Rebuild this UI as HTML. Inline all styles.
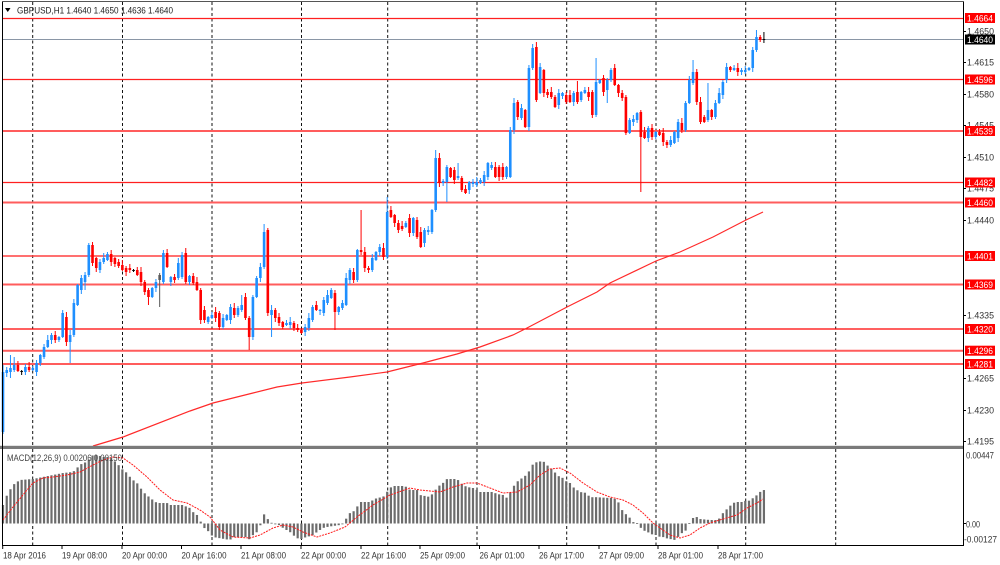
<!DOCTYPE html>
<html>
<head>
<meta charset="utf-8">
<style>
  html,body{margin:0;padding:0;background:#fff;}
  svg{display:block;}
  text{font-family:"Liberation Sans",sans-serif;}
</style>
</head>
<body>
<svg id="chart" width="1000" height="565" viewBox="0 0 1000 565" xmlns="http://www.w3.org/2000/svg">
  <rect x="0" y="0" width="1000" height="565" fill="#ffffff"/>
  <!-- vertical dashed grid -->
  <g stroke="#111" stroke-width="1" stroke-dasharray="3,2.5">
    <line x1="32.7" y1="2" x2="32.7" y2="446"/><line x1="32.7" y1="449" x2="32.7" y2="545"/>
    <line x1="122.5" y1="2" x2="122.5" y2="446"/><line x1="122.5" y1="449" x2="122.5" y2="545"/>
    <line x1="212" y1="2" x2="212" y2="446"/><line x1="212" y1="449" x2="212" y2="545"/>
    <line x1="301.5" y1="2" x2="301.5" y2="446"/><line x1="301.5" y1="449" x2="301.5" y2="545"/>
    <line x1="387.7" y1="2" x2="387.7" y2="446"/><line x1="387.7" y1="449" x2="387.7" y2="545"/>
    <line x1="477" y1="2" x2="477" y2="446"/><line x1="477" y1="449" x2="477" y2="545"/>
    <line x1="566.7" y1="2" x2="566.7" y2="446"/><line x1="566.7" y1="449" x2="566.7" y2="545"/>
    <line x1="656" y1="2" x2="656" y2="446"/><line x1="656" y1="449" x2="656" y2="545"/>
    <line x1="745.7" y1="2" x2="745.7" y2="446"/><line x1="745.7" y1="449" x2="745.7" y2="545"/>
    <line x1="835.7" y1="2" x2="835.7" y2="446"/><line x1="835.7" y1="449" x2="835.7" y2="545"/>
  </g>

  <!-- horizontal level lines -->
  <g>
    <line x1="3" y1="18.5" x2="963" y2="18.5" stroke="#ff2020" stroke-width="1.3"/>
    <line x1="3" y1="79.5" x2="963" y2="79.5" stroke="#ff2020" stroke-width="1.3"/>
    <line x1="3" y1="131" x2="963" y2="131" stroke="#ff5c5c" stroke-width="2"/>
    <line x1="3" y1="182.5" x2="963" y2="182.5" stroke="#ff2020" stroke-width="1.3"/>
    <line x1="3" y1="202.5" x2="963" y2="202.5" stroke="#ff5c5c" stroke-width="2"/>
    <line x1="3" y1="256" x2="963" y2="256" stroke="#ff4040" stroke-width="1.6"/>
    <line x1="3" y1="284.5" x2="963" y2="284.5" stroke="#ff5c5c" stroke-width="2"/>
    <line x1="3" y1="329" x2="963" y2="329" stroke="#ff0000" stroke-width="1.2"/>
    <line x1="3" y1="350.7" x2="963" y2="350.7" stroke="#ff5c5c" stroke-width="2"/>
    <line x1="3" y1="364" x2="963" y2="364" stroke="#ff5c5c" stroke-width="2"/>
    <!-- current price line -->
    <line x1="3" y1="39.5" x2="963" y2="39.5" stroke="#8a96a6" stroke-width="1"/>
  </g>

  <!-- moving average -->
  <polyline id="ma" fill="none" stroke="#ff2a2a" stroke-width="1.2" points=""/>
  <!-- candles -->
  <g id="candles"></g>
  <!-- macd histogram -->
  <g id="hist"></g>
  <polyline id="sig" fill="none" stroke="#ff1a1a" stroke-width="1" stroke-dasharray="2,1" points=""/>

  <!-- separator bar -->
  <rect x="0" y="445.8" width="963.5" height="3.2" fill="#7a7a7a"/>

  <!-- frame -->
  <line x1="2.5" y1="1" x2="2.5" y2="545.5" stroke="#000" stroke-width="1"/>
  <line x1="963.5" y1="1" x2="963.5" y2="545.5" stroke="#000" stroke-width="1"/>
  <line x1="2" y1="1.5" x2="964" y2="1.5" stroke="#555" stroke-width="1"/>
  <line x1="2" y1="545.5" x2="964" y2="545.5" stroke="#000" stroke-width="1"/>

  <!-- header -->
  <polygon points="5,8 10.5,8 7.75,12" fill="#000"/>
  <text x="17" y="13.5" font-size="9" fill="#222" textLength="156" lengthAdjust="spacingAndGlyphs">GBPUSD,H1  1.4640 1.4650 1.4636 1.4640</text>
  <text x="7" y="461" font-size="9" fill="#444" textLength="115" lengthAdjust="spacingAndGlyphs">MACD(12,26,9) 0.00206 0.00150</text>

  <!-- right axis ticks -->
  <g stroke="#000" stroke-width="1">
    <line x1="963" y1="31.5" x2="966" y2="31.5"/>
    <line x1="963" y1="62.5" x2="966" y2="62.5"/>
    <line x1="963" y1="94.5" x2="966" y2="94.5"/>
    <line x1="963" y1="125.5" x2="966" y2="125.5"/>
    <line x1="963" y1="157.5" x2="966" y2="157.5"/>
    <line x1="963" y1="188.5" x2="966" y2="188.5"/>
    <line x1="963" y1="220.5" x2="966" y2="220.5"/>
    <line x1="963" y1="315.5" x2="966" y2="315.5"/>
    <line x1="963" y1="378.5" x2="966" y2="378.5"/>
    <line x1="963" y1="410.5" x2="966" y2="410.5"/>
    <line x1="963" y1="441.5" x2="966" y2="441.5"/>
    <line x1="963" y1="523.5" x2="966" y2="523.5"/>
  </g>
  <g font-size="9" fill="#333">
    <text x="967" y="34.5" textLength="27" lengthAdjust="spacingAndGlyphs">1.4650</text>
    <text x="967" y="65.5" textLength="27" lengthAdjust="spacingAndGlyphs">1.4615</text>
    <text x="967" y="97.5" textLength="27" lengthAdjust="spacingAndGlyphs">1.4580</text>
    <text x="967" y="128.5" textLength="27" lengthAdjust="spacingAndGlyphs">1.4545</text>
    <text x="967" y="160.5" textLength="27" lengthAdjust="spacingAndGlyphs">1.4510</text>
    <text x="967" y="191.5" textLength="27" lengthAdjust="spacingAndGlyphs">1.4475</text>
    <text x="967" y="223.5" textLength="27" lengthAdjust="spacingAndGlyphs">1.4440</text>
    <text x="967" y="318.5" textLength="27" lengthAdjust="spacingAndGlyphs">1.4335</text>
    <text x="967" y="381.5" textLength="27" lengthAdjust="spacingAndGlyphs">1.4265</text>
    <text x="967" y="413.5" textLength="27" lengthAdjust="spacingAndGlyphs">1.4230</text>
    <text x="967" y="444.5" textLength="27" lengthAdjust="spacingAndGlyphs">1.4195</text>
    <text x="966" y="458.5" textLength="28" lengthAdjust="spacingAndGlyphs">0.00447</text>
    <text x="966" y="527.5" textLength="14" lengthAdjust="spacingAndGlyphs">0.00</text>
    <text x="964" y="542.5" textLength="33" lengthAdjust="spacingAndGlyphs">-0.00127</text>
  </g>

  <!-- level labels -->
  <g>
    <rect x="965" y="13" width="30" height="10" fill="#ff0000"/>
    <rect x="965" y="34.5" width="30" height="10" fill="#000"/>
    <rect x="965" y="74.5" width="30" height="10" fill="#ff0000"/>
    <rect x="965" y="126" width="30" height="10" fill="#ff0000"/>
    <rect x="965" y="177.5" width="30" height="10" fill="#ff0000"/>
    <rect x="965" y="197.5" width="30" height="10" fill="#ff0000"/>
    <rect x="965" y="251" width="30" height="10" fill="#ff0000"/>
    <rect x="965" y="279.5" width="30" height="10" fill="#ff0000"/>
    <rect x="965" y="324" width="30" height="10" fill="#ff0000"/>
    <rect x="965" y="345.7" width="30" height="10" fill="#ff0000"/>
    <rect x="965" y="359" width="30" height="10" fill="#ff0000"/>
  </g>
  <g font-size="9" fill="#fff">
    <text x="967" y="21.5" textLength="26" lengthAdjust="spacingAndGlyphs">1.4664</text>
    <text x="967" y="43" textLength="26" lengthAdjust="spacingAndGlyphs">1.4640</text>
    <text x="967" y="83" textLength="26" lengthAdjust="spacingAndGlyphs">1.4596</text>
    <text x="967" y="134.5" textLength="26" lengthAdjust="spacingAndGlyphs">1.4539</text>
    <text x="967" y="186" textLength="26" lengthAdjust="spacingAndGlyphs">1.4482</text>
    <text x="967" y="206" textLength="26" lengthAdjust="spacingAndGlyphs">1.4460</text>
    <text x="967" y="259.5" textLength="26" lengthAdjust="spacingAndGlyphs">1.4401</text>
    <text x="967" y="288" textLength="26" lengthAdjust="spacingAndGlyphs">1.4369</text>
    <text x="967" y="332.5" textLength="26" lengthAdjust="spacingAndGlyphs">1.4320</text>
    <text x="967" y="354.2" textLength="26" lengthAdjust="spacingAndGlyphs">1.4296</text>
    <text x="967" y="367.5" textLength="26" lengthAdjust="spacingAndGlyphs">1.4281</text>
  </g>

  <!-- time axis -->
  <g stroke="#000" stroke-width="1">
    <line x1="2.7" y1="545" x2="2.7" y2="549"/>
    <line x1="62" y1="545" x2="62" y2="549"/>
    <line x1="122" y1="545" x2="122" y2="549"/>
    <line x1="181.5" y1="545" x2="181.5" y2="549"/>
    <line x1="241" y1="545" x2="241" y2="549"/>
    <line x1="301" y1="545" x2="301" y2="549"/>
    <line x1="361" y1="545" x2="361" y2="549"/>
    <line x1="420" y1="545" x2="420" y2="549"/>
    <line x1="479.5" y1="545" x2="479.5" y2="549"/>
    <line x1="539" y1="545" x2="539" y2="549"/>
    <line x1="599" y1="545" x2="599" y2="549"/>
    <line x1="658" y1="545" x2="658" y2="549"/>
    <line x1="718" y1="545" x2="718" y2="549"/>
  </g>
  <g font-size="9" fill="#333">
    <text x="3" y="558.5" textLength="43" lengthAdjust="spacingAndGlyphs">18 Apr 2016</text>
    <text x="62" y="558.5" textLength="45" lengthAdjust="spacingAndGlyphs">19 Apr 08:00</text>
    <text x="122" y="558.5" textLength="45" lengthAdjust="spacingAndGlyphs">20 Apr 00:00</text>
    <text x="181.5" y="558.5" textLength="45" lengthAdjust="spacingAndGlyphs">20 Apr 16:00</text>
    <text x="241" y="558.5" textLength="45" lengthAdjust="spacingAndGlyphs">21 Apr 08:00</text>
    <text x="301" y="558.5" textLength="45" lengthAdjust="spacingAndGlyphs">22 Apr 00:00</text>
    <text x="361" y="558.5" textLength="45" lengthAdjust="spacingAndGlyphs">22 Apr 16:00</text>
    <text x="420" y="558.5" textLength="45" lengthAdjust="spacingAndGlyphs">25 Apr 09:00</text>
    <text x="479.5" y="558.5" textLength="45" lengthAdjust="spacingAndGlyphs">26 Apr 01:00</text>
    <text x="539" y="558.5" textLength="45" lengthAdjust="spacingAndGlyphs">26 Apr 17:00</text>
    <text x="599" y="558.5" textLength="45" lengthAdjust="spacingAndGlyphs">27 Apr 09:00</text>
    <text x="658" y="558.5" textLength="45" lengthAdjust="spacingAndGlyphs">28 Apr 01:00</text>
    <text x="718" y="558.5" textLength="45" lengthAdjust="spacingAndGlyphs">28 Apr 17:00</text>
  </g>
</svg>
<script>
(function(){
  var NS="http://www.w3.org/2000/svg";
  function mk(tag,attrs,parent){var e=document.createElementNS(NS,tag);for(var k in attrs)e.setAttribute(k,attrs[k]);parent.appendChild(e);return e;}
  var C=[
[432,372,365,434],[373,370],[372,368,355,378],[370,365,357,372],[365,371],[371,371],[372,367],[367,370],[370,368],[372,363,360,376],
[363,355],[357,347],[347,340],[340,335],[335,340],[340,337],[337,313],[317,342],[342,335,330,363],[335,303],
[305,285],[290,278],[282,275,272,290],[275,245,243,277],[245,263,242,266],[258,268],[270,262],[262,258],[260,254],[254,262],
[258,264],[262,266],[265,270],[268,272],[268,270],[270,270],[270,275],[272,282],[282,292],[290,297,288,305],
[297,288],[288,282],[275,280,273,307,'g'],[282,253,250,284],[253,267],[282,277],[277,280],[278,263],[277,255,252,279],[253,282,248,284],
[282,276],[276,283],[282,290],[290,320],[310,320],[322,317],[318,315],[312,318],[313,327],[327,318],
[320,315],[320,307],[308,315],[315,308],[310,305,295,312],[297,318,293,320],[318,337,316,350],[337,297,295,340],[297,278],[278,267],
[267,232,224,269],[230,313,228,316],[315,310,305,337],[310,318],[317,323],[322,327],[325,323],[325,322],[323,328],[328,330],
[330,333],[332,327],[328,318],[320,307],[305,310],[311,310],[313,300],[303,295],[298,290],[293,312,290,330],
[312,307],[308,303],[305,278],[280,270],[272,280],[280,250],[250,252,210,255],[252,268],[268,270],[270,258],
[260,252],[252,247],[248,257],[257,212,197,259],[210,217],[215,223],[223,230],[226,229],[227,223],[218,233],
[233,218],[220,237],[232,247],[243,230],[232,230],[232,210],[210,158,150,212],[158,183],[183,181],[182,167,165,202],
[168,177],[170,180],[178,176,163,180],[178,190],[189,193],[190,182],[184,182],[185,182],[183,180],[182,175],
[177,163],[168,165],[167,177],[167,177],[167,177],[177,167],[177,130],[130,103],[102,117],[118,108],
[110,127],[127,68],[68,48,44,70],[47,100,42,102],[93,67],[70,93],[92,95],[92,97],[97,107],[105,93],
[96,93],[95,102],[95,102],[102,93],[92,102,81,104],[100,92],[93,90],[92,97],[92,115],[115,82,58,117],
[83,80],[78,92],[90,80,78,103],[80,70],[68,85],[85,93],[93,98],[97,133,95,135],[133,120],[122,119],
[120,113],[112,137,110,192],[132,138],[138,128],[128,137],[137,132],[132,135],[133,142],[142,145],[145,140],
[143,132],[138,122],[123,130],[130,103],[103,80],[83,72,60,85],[72,102],[102,122],[117,122],[120,110,83,122],
[110,117],[117,103],[103,93],[95,82],[80,67],[67,70],[70,68],[68,72],[72,70],[72,70],
[70,68],[68,50],[50,37,30,52],[37,40],[39,40,32,43,'k']
  ];
  var g=document.getElementById('candles');
  for(var i=0;i<C.length;i++){
    var d=C[i],o=d[0],c=d[1];
    var top=Math.min(o,c),bot=Math.max(o,c);
    var h=(d[2]!==undefined)?d[2]:top-(1+(i*7)%5);
    var l=(d[3]!==undefined)?d[3]:bot+(1+(i*3)%4);
    var x=3+3.73*i;
    var col;
    if(d[4]==='g')col='#5a5a5a';else if(d[4]==='k')col='#000';
    else if(c<o)col='#1e8fff';else if(c>o)col='#ff0000';else col='#000';
    mk('line',{x1:x,y1:h,x2:x,y2:l,stroke:col,'stroke-width':1},g);
    var bh=Math.max(bot-top,1);
    mk('rect',{x:x-1.3,y:top,width:2.6,height:bh,fill:col},g);
  }
  function interp(P,x){
    if(x<=P[0][0])return P[0][1];
    for(var k=1;k<P.length;k++){if(x<=P[k][0]){var a=P[k-1],b=P[k];return a[1]+(b[1]-a[1])*(x-a[0])/(b[0]-a[0]);}}
    return P[P.length-1][1];
  }
  var H=[[3,505],[6,497],[10,490],[13,485],[17,482],[20,480],[33,479],[43,477],[53,475],[63,473],[73,472],[77,468],[80,465],[83,463],[87,462],[90,458],[93,455],[97,455],[103,457],[110,457],[113,460],[117,463],[120,467],[123,470],[127,473],[130,477],[133,480],[137,483],[140,487],[143,492],[147,495],[150,498],[153,500],[157,503],[167,503],[170,505],[183,505],[187,507],[190,508],[193,512],[197,515],[200,520],[203,527],[207,530],[210,533],[213,537],[230,540],[233,537],[247,537],[250,540],[253,535],[257,532],[260,527],[263,513],[267,518],[270,522],[273,523.5],[277,525],[280,525],[283,528],[290,532],[293,535],[300,540],[303,538],[307,537],[313,535],[317,532],[323,528],[327,527],[333,526],[340,525],[344,523],[347,517],[350,513],[353,512],[357,507],[360,502],[370,502],[373,500],[377,498],[383,497],[387,492],[390,488],[393,486],[403,486],[407,487],[410,490],[417,490],[420,495],[430,497],[433,493],[437,488],[440,485],[443,483],[447,479],[457,479],[460,482],[463,485],[467,487],[473,488],[477,490],[480,492],[493,492],[497,494],[503,495],[507,498],[510,493],[513,487],[517,482],[520,479],[523,478],[527,474],[530,470],[533,464],[537,462],[543,461],[547,465],[550,468],[553,470],[557,475],[560,477],[563,478],[567,482],[570,483],[573,487],[577,490],[580,492],[587,493],[590,498],[593,497],[610,498],[613,498],[617,500],[620,505],[623,512],[627,515],[630,518],[633,522],[637,523],[640,527],[643,530],[647,532],[650,533],[653,535],[657,535],[660,537],[663,537],[665,538],[675,540],[678,537],[682,533],[685,532],[688,525],[693,518],[697,517],[700,519],[710,520],[717,520],[720,518],[723,513],[727,509],[730,506],[733,503],[737,502],[743,502],[747,500],[750,501],[753,498],[757,495],[760,492],[764,490]];
  var hg=document.getElementById('hist'),Z=523.5;
  for(var i=0;i<C.length;i++){
    var x=3+3.73*i,v=interp(H,x);
    var t=Math.min(v,Z),b=Math.max(v,Z);
    mk('rect',{x:x-1.1,y:t,width:2.2,height:Math.max(b-t,0.8),fill:'#6c6c6c'},hg);
  }
  var S=[[3,520],[13,507],[27,490],[33,483],[43,478],[53,477],[67,475],[80,472],[93,465],[103,460],[113,457],[123,458],[133,465],[147,477],[160,490],[173,500],[187,503],[200,510],[210,517],[220,530],[233,537],[250,538],[260,535],[273,528],[283,525],[293,527],[303,532],[317,537],[330,533],[345,527],[357,517],[373,505],[390,495],[410,488],[420,490],[440,492],[453,487],[467,483],[477,483],[490,488],[503,493],[517,492],[530,485],[540,475],[550,469],[560,468],[570,473],[583,483],[597,492],[610,497],[623,500],[633,505],[643,513],[653,523],[660,528],[670,535],[680,538],[690,535],[700,528],[710,523],[723,519],[737,515],[747,508],[757,503],[763,499]];
  document.getElementById('sig').setAttribute('points',S.map(function(p){return p[0]+','+p[1];}).join(' '));
  var M=[[93,446],[123,437],[190,411],[213,403],[253,393],[277,387],[302,383],[350,377],[387,372],[423,363],[457,354],[480,347],[513,335],[527,328],[567,307],[597,292],[610,283],[656,261],[680,252],[713,237],[746,220],[763,212]];
  document.getElementById('ma').setAttribute('points',M.map(function(p){return p[0]+','+p[1];}).join(' '));
})();
</script>
</body>
</html>
